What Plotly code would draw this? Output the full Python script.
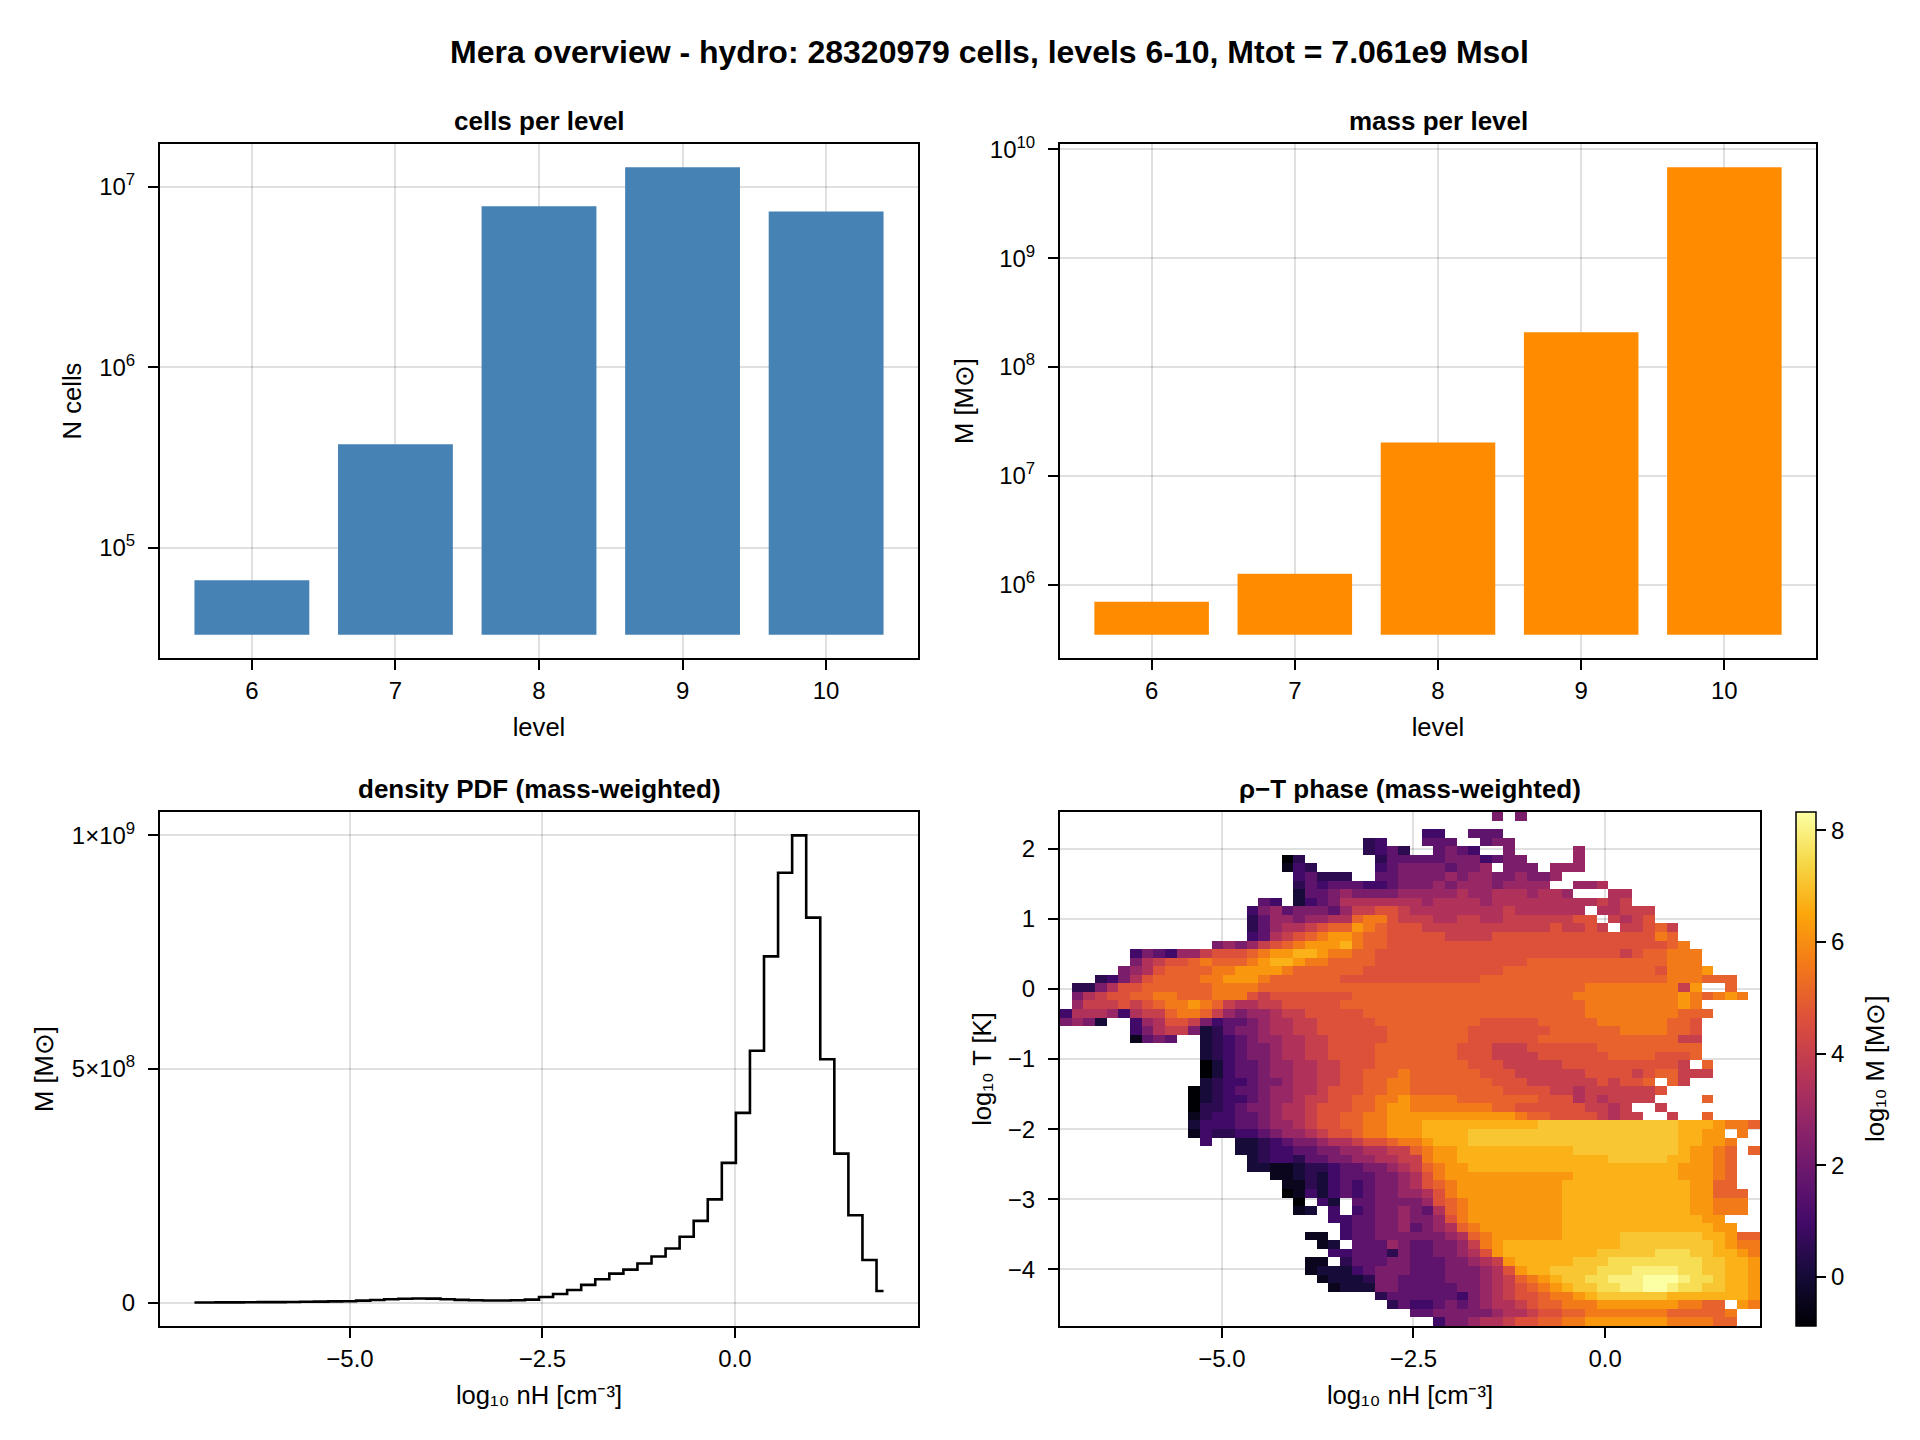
import numpy as np
import plotly.graph_objects as go

# ---------------------------------------------------------------- data
TITLE = "Mera overview - hydro: 28320979 cells, levels 6-10, Mtot = 7.061e9 Msol"

LEVELS = [6, 7, 8, 9, 10]
CELLS_PER_LEVEL = [66200, 375000, 7.80e6, 12.8e6, 7.28e6]
MASS_PER_LEVEL = [6.95e5, 1.26e6, 2.02e7, 2.09e8, 6.83e9]

# density PDF: 50 bins of log10 nH over the data range, mass per bin [Msol]
NH_RANGE = [-7.111, 2.021]
DENSITY_PDF_MASS = [
    0.0003e9, 0.0004e9, 0.0005e9, 0.0006e9, 0.0008e9, 0.0010e9, 0.0012e9, 0.0015e9,
    0.0018e9, 0.0022e9, 0.0026e9, 0.0030e9, 0.0042e9, 0.0058e9, 0.0073e9, 0.0084e9,
    0.0089e9, 0.0085e9, 0.0073e9, 0.0060e9, 0.0050e9, 0.0045e9, 0.0046e9, 0.0052e9,
    0.0064e9, 0.0120e9, 0.0186e9, 0.0270e9, 0.0380e9, 0.0500e9, 0.0620e9, 0.0707e9,
    0.0836e9, 0.0986e9, 0.1160e9, 0.1410e9, 0.1750e9, 0.2210e9, 0.2990e9, 0.4060e9,
    0.5390e9, 0.7410e9, 0.9200e9, 1.0000e9, 0.8240e9, 0.5210e9, 0.3190e9, 0.1870e9,
    0.0914e9, 0.0250e9,
]

# rho-T phase diagram: 60 x 60 cells, log10 nH range x log10 T range
T_RANGE = [-4.809, 2.524]
PHASE_KEY = "0123456789ABCDEFGHI"
PHASE_LOG_MASS = [-0.88, -0.42, 0.04, 0.5, 0.96, 1.6, 2.25, 2.9, 3.45, 4.0,
                  4.65, 5.05, 5.6, 6.2, 6.7, 7.1, 7.55, 7.95, 8.33]
PHASE_ROWS = [  # top row (highest T) first, '.' = empty cell
    ".........." ".........." ".........." ".......6.6" ".........." "..........",
    ".........." ".........." ".........." ".........." ".........." "..........",
    ".........." ".........." ".........." ".44..555.." ".........." "..........",
    ".........." ".........." "......34.." ".555..566." ".........." "..........",
    ".........." ".........." "......3453" "..5654..6." "....7....." "..........",
    ".........." ".........0" "3......355" "5556664566" "....7....." "..........",
    ".........." ".........1" "43.....456" "6665667.66" "6.777....." "..........",
    ".........." ".........." "45333..556" "6667677667" "667......." "..........",
    ".........." ".........." "3545554456" "6676777677" "77..778..." "..........",
    ".........." ".........." "2556766667" "7777877888" "7887...88." "..........",
    ".........." ".......54." "2456888888" "8788887888" "888888989." "..........",
    ".........." "......4675" "6665799AA9" "8888888898" "88888.8899" "9.........",
    ".........." "......3577" "67788BCCA9" "9988998899" "9999AA.989" "A.........",
    ".........." "......3578" "89ABBDCBAA" "A999999999" "99A99A9.99" "AB9.......",
    ".........." "......4589" "ABCDDCBBAA" "AAA9999AAA" "AAAAAAAAAA" "ACB.......",
    ".........." "...67679AB" "CDDDECBBAA" "AAAAAAAAAA" "AAAAAAAAAA" "AABC......",
    "......4654" "779AAABCDD" "EEDCCBBAAA" "AAAAAAAAAA" "AAAAAAAA9A" "BBCCC.....",
    "......689A" "ABCBBBCDEE" "DCCBBBBAAA" "AAAAAAAAAA" "BBBBBBBBBB" "BBCCC.....",
    ".....678AB" "BBBCCDDDDC" "BBBBBBAAAA" "AAAAAAAABB" "BBBBBBBBBB" "BACCCD....",
    "...3468ABB" "BBCCDDDCBB" "BBBBAAAAAA" "AAAAAABBBB" "BBBBBBBBBB" "BBCCCBBB..",
    ".3368AABBB" "BBBCCCCBBB" "BBBBBBBBBB" "BBBBBBBBBB" "BBBBBCCCCC" "CCC9D..B..",
    ".689AABBCC" "BBBCCCA9AA" "AAAAABBBBB" "BBBBBBBBBB" "BBBBCCCCCC" "CCCDCBCDC.",
    ".7999A9ABC" "CDCB98899A" "AAAABBBBBB" "BBBBBBBBBB" "BBBBBCCCCC" "CCCDC.....",
    "488874899B" "CCB9767789" "9AAAAABBBB" "BBBBBBBBBB" "BBBBBCCCCC" "CCCBBB....",
    "6762..478A" "A964556788" "99AAAAABBB" "BBBBBBAAAA" "ABBBBBCCCC" "CCBBA.....",
    "......4689" "9623566788" "99AAAAAABB" "BBBBBAAAAA" "AABBBBBBCC" "CCBBA.....",
    "......1565" "..23456778" "899AAAAABB" "BBBBBAAAAA" "ABBBBBBBBB" "BBB99.....",
    ".........." "..23456678" "899AAAABBB" "BBBBAAA999" "AAAAAABBBB" "BBBBB.....",
    ".........." "..23456678" "899AAAABBB" "BBBBAAA999" "9AAAAAABBB" "BAAAB.....",
    ".........." "..02455677" "8899AAABBB" "BBBBBAAA99" "999AAAAAAA" "AAA9.B....",
    ".........." "..02455677" "8899AABBBC" "BBBBBBAAA9" "99999AAAA9" "ABB999....",
    ".........." "..23445667" "8899AABBCC" "BBBBBBBAAA" "999999A9AA" "B.B9......",
    ".........." ".023455677" "889AAABBCC" "BBBBBBBBAA" "AA99899999" "9A........",
    ".........." ".023445677" "899AABBCCD" "CCCCBBBBBB" "BAAA898999" "9....B....",
    ".........." ".033456678" "89AAABBCDD" "CCCCCCCBBA" "AAAAA9989." ".9........",
    ".........." ".134455678" "89AABBCCDD" "DDDDDDDDDC" "BBAAAA9899" "..9..B....",
    ".........." ".244455677" "89AABBCCDD" "DEEEEEEEEE" "EFFFFFFFFF" "FFFEEEDCCB",
    ".........." ".143344567" "789AABCCDD" "DEEEEFFFFF" "FFFFFFFFFF" "FFFEEDD.C.",
    ".........." "..4..22345" "667889AABC" "CDEEEFFFFF" "FFFFFFFFFF" "FFFEEDDC..",
    ".........." ".....22344" "5566778899" "BCDDEEEEEE" "EEEEFFFFFF" "FFFEDDCB.B",
    ".........." "......2344" "3556677889" "9CDDEEEEEE" "EEEEEEEFFF" "FFEEDDCB..",
    ".........." "......2211" "2334556678" "9BCDDEEEEE" "EEEEEEEEEE" "EEEDDDCB..",
    ".........." "........11" "2324555667" "8ACDDDDDDD" "DDDDEEEEEE" "EEEDDDCB..",
    ".........." ".........1" "1324545667" "8ABCDDDDDD" "DDDEEEEEEE" "EEEEDDBB..",
    ".........." ".........0" "1424545667" "78ACDDDDDD" "DDDEEEEEEE" "EEEEDDBBB.",
    ".........." ".........." "0.42.55666" "67ABCDDDDD" "DDDEEEEEEE" "EEEEDDCCC.",
    ".........." ".........." "12.4.45667" "658BCDDDDD" "DDDEEEEEEE" "EEEEDDCCC.",
    ".........." ".........." "...4455667" "667ACDDDDD" "DDDEEEEEEE" "EEEEEDD...",
    ".........." ".........." "....455667" "5678BCDDDD" "DDDEEEEEEE" "EEEEEEDD..",
    ".........." ".........." ".11.455666" "66678BCDDD" "DDDEEEEEFF" "FFFFFEEDBB",
    ".........." ".........." "..12.55576" "556679CDEE" "EEEEEEEEFF" "FFFFFFEDCC",
    ".........." ".........." "...4455536" "556678ADEE" "EEEEEEFFFF" "FGGGFFEEDC",
    ".........." ".........." ".11.355566" "55566789DE" "EEEEFFFGGG" "GGGGGFFEED",
    ".........." ".........." ".122245666" "55566678AD" "EEFFFFGGGH" "HHHGGFFEED",
    ".........." ".........." "..12223665" "555666789B" "CDEFFGGHHH" "IIIHGGFEED",
    ".........." ".........." "...1222665" "555566789A" "BCDEFFGGHH" "IIHGGFFEED",
    ".........." ".........." ".......355" "555546789A" "ABCCDEFFFF" "FFEEEEEEED",
    ".........." ".........." "........35" "4456567889" "ABBCCCDDDD" "DDDCCBB.DC",
    ".........." ".........." ".........." "5566666788" "9AABBCCCCC" "CCBBBBBC..",
    ".........." ".........." ".........." "..4667889A" "ABBCCDDDDD" "DDCCCCBB..",
]
PHASE_CBAR_RANGE = [-0.88, 8.33]

# ---------------------------------------------------------------- helpers
W, H = 1920, 1440
FONT = "Liberation Sans, Arial, Helvetica, sans-serif"
TICK_SIZE = 24
LABEL_SIZE = 25.6
TITLE_SIZE = 26
SUPTITLE_SIZE = 32


def dom_x(a, b):
    return [a / W, b / W]


def dom_y(top, bot):
    return [1 - bot / H, 1 - top / H]


LEFT = (160, 918)
RIGHT = (1060, 1816)
HEAT_RIGHT = 1760
TOP = (144, 658)
BOT = (812, 1326)

GRID = "rgba(0,0,0,0.12)"


def axis(title_text, standoff, **kw):
    d = dict(showline=True, mirror=True, linecolor="black", linewidth=2,
             ticks="outside", ticklen=10, tickwidth=1.6, tickcolor="black",
             showgrid=True, gridcolor=GRID, gridwidth=1.5, zeroline=False,
             automargin=False,
             tickfont=dict(size=TICK_SIZE, color="black", family=FONT),
             title=dict(text=title_text, standoff=standoff,
                        font=dict(size=LABEL_SIZE, color="black", family=FONT)))
    d.update(kw)
    return d


def log_limits(vals):
    base = min(vals) / 2.0
    lo, hi = np.log10(base), np.log10(max(vals))
    pad = 0.05 * (hi - lo)
    return base, [lo - pad, hi + pad]


def sup_power(v):
    return "10<sup>%d</sup>" % int(round(np.log10(v)))


fig = go.Figure()

# ---------------- cells per level
cells_base, cells_rng = log_limits(CELLS_PER_LEVEL)
fig.add_trace(go.Bar(x=LEVELS, y=[v - cells_base for v in CELLS_PER_LEVEL],
                     base=[cells_base] * len(LEVELS), width=0.8,
                     marker=dict(color="#4682b4", line=dict(width=0)),
                     xaxis="x", yaxis="y", showlegend=False))

# ---------------- mass per level
mass_base, mass_rng = log_limits(MASS_PER_LEVEL)
fig.add_trace(go.Bar(x=LEVELS, y=[v - mass_base for v in MASS_PER_LEVEL],
                     base=[mass_base] * len(LEVELS), width=0.8,
                     marker=dict(color="#ff8c00", line=dict(width=0)),
                     xaxis="x2", yaxis="y2", showlegend=False))

# ---------------- density PDF
edges = np.linspace(NH_RANGE[0], NH_RANGE[1], len(DENSITY_PDF_MASS) + 1)
centers = 0.5 * (edges[:-1] + edges[1:])
fig.add_trace(go.Scatter(x=centers, y=DENSITY_PDF_MASS, mode="lines",
                         line=dict(color="black", width=2.6, shape="hvh"),
                         xaxis="x3", yaxis="y3", showlegend=False))

# ---------------- phase diagram
nrow = len(PHASE_ROWS)
ncol = len(PHASE_ROWS[0])
z = np.full((nrow, ncol), np.nan)
for r, row in enumerate(PHASE_ROWS):
    row = row.ljust(ncol, ".")[:ncol]
    for c, ch in enumerate(row):
        if ch != ".":
            z[r, c] = PHASE_LOG_MASS[PHASE_KEY.index(ch)]
z = z[::-1]  # bottom row first
xe = np.linspace(NH_RANGE[0], NH_RANGE[1], ncol + 1)
ye = np.linspace(T_RANGE[0], T_RANGE[1], nrow + 1)
xc = 0.5 * (xe[:-1] + xe[1:])
yc = 0.5 * (ye[:-1] + ye[1:])

INFERNO = [[0.0, "#000004"], [0.1, "#160b39"], [0.2, "#420a68"], [0.3, "#6a176e"],
           [0.4, "#932667"], [0.5, "#bc3754"], [0.6, "#dd513a"], [0.7, "#f37819"],
           [0.8, "#fca50a"], [0.9, "#f6d746"], [1.0, "#fcffa4"]]

fig.add_trace(go.Heatmap(
    x=xc, y=yc, z=z, colorscale=INFERNO,
    zmin=PHASE_CBAR_RANGE[0], zmax=PHASE_CBAR_RANGE[1],
    xaxis="x4", yaxis="y4", hoverongaps=False,
    colorbar=dict(
        x=1796 / W, xanchor="left", y=dom_y(*BOT)[0], yanchor="bottom",
        len=(BOT[1] - BOT[0]) / H, lenmode="fraction",
        thickness=20, thicknessmode="pixels", xpad=0, ypad=0,
        outlinewidth=1.5, outlinecolor="black",
        ticks="outside", ticklen=10, tickwidth=1.6, tickcolor="black",
        tickvals=[0, 2, 4, 6, 8], ticktext=["0", "2", "4", "6", "8"],
        tickfont=dict(size=TICK_SIZE, color="black", family=FONT),
    ),
))

lvl_rng = [LEVELS[0] - 0.4 - 0.05 * 4.8, LEVELS[-1] + 0.4 + 0.05 * 4.8]
pdf_rng_x = [centers[0] - 0.05 * (centers[-1] - centers[0]),
             centers[-1] + 0.05 * (centers[-1] - centers[0])]
pdf_max = max(DENSITY_PDF_MASS)
pdf_rng_y = [-0.05 * pdf_max, 1.05 * pdf_max]

XSTAND = 15
YPAD = 8
fig.update_layout(
    width=W, height=H, margin=dict(l=0, r=0, t=0, b=0, autoexpand=False),
    paper_bgcolor="white", plot_bgcolor="white",
    font=dict(family=FONT, color="black"),
    xaxis=axis("level", XSTAND, domain=dom_x(*LEFT), anchor="y", range=lvl_rng,
               tickvals=LEVELS),
    yaxis=axis("N cells", 10, domain=dom_y(*TOP), anchor="x", type="log", range=cells_rng,
               tickvals=[1e5, 1e6, 1e7], ticktext=[sup_power(v) for v in [1e5, 1e6, 1e7]],
               ticklabelstandoff=YPAD),
    xaxis2=axis("level", XSTAND, domain=dom_x(*RIGHT), anchor="y2", range=lvl_rng,
                tickvals=LEVELS),
    yaxis2=axis("M [M⊙]", 9, domain=dom_y(*TOP), anchor="x2", type="log", range=mass_rng,
                tickvals=[1e6, 1e7, 1e8, 1e9, 1e10],
                ticktext=[sup_power(v) for v in [1e6, 1e7, 1e8, 1e9, 1e10]],
                ticklabelstandoff=YPAD),
    xaxis3=axis("log₁₀ nH [cm⁻³]", XSTAND, domain=dom_x(*LEFT), anchor="y3",
                range=pdf_rng_x, tickvals=[-5, -2.5, 0], ticktext=["−5.0", "−2.5", "0.0"]),
    yaxis3=axis("M [M⊙]", 11, domain=dom_y(*BOT), anchor="x3", range=pdf_rng_y,
                tickvals=[0, 5e8, 1e9],
                ticktext=["0", "5×10<sup>8</sup>", "1×10<sup>9</sup>"],
                ticklabelstandoff=YPAD),
    xaxis4=axis("log₁₀ nH [cm⁻³]", XSTAND, domain=dom_x(RIGHT[0], HEAT_RIGHT), anchor="y4",
                range=NH_RANGE, tickvals=[-5, -2.5, 0], ticktext=["−5.0", "−2.5", "0.0"]),
    yaxis4=axis("log₁₀ T [K]", 8.5, domain=dom_y(*BOT), anchor="x4", range=T_RANGE,
                tickvals=[2, 1, 0, -1, -2, -3, -4],
                ticktext=["2", "1", "0", "−1", "−2", "−3", "−4"],
                ticklabelstandoff=YPAD),
)

annotations = [
    dict(text="<b>%s</b>" % TITLE, x=989 / W, y=1 - 51.5 / H,
         font=dict(size=SUPTITLE_SIZE)),
    dict(text="<b>cells per level</b>", x=(LEFT[0] + LEFT[1]) / 2 / W, y=1 - 121 / H),
    dict(text="<b>mass per level</b>", x=(RIGHT[0] + RIGHT[1]) / 2 / W, y=1 - 121 / H),
    dict(text="<b>density PDF (mass-weighted)</b>", x=(LEFT[0] + LEFT[1]) / 2 / W,
         y=1 - 788.5 / H),
    dict(text="<b>ρ−T phase (mass-weighted)</b>", x=(RIGHT[0] + HEAT_RIGHT) / 2 / W,
         y=1 - 788.5 / H),
    # colorbar label
    dict(text="log₁₀ M [M⊙]", x=1875 / W, y=1 - (BOT[0] + BOT[1]) / 2 / H,
         textangle=-90, font=dict(size=LABEL_SIZE)),
]
for a in annotations:
    a.setdefault("font", dict(size=TITLE_SIZE))
    a["font"].update(color="black", family=FONT)
    fig.add_annotation(xref="paper", yref="paper", xanchor="center", yanchor="middle",
                       showarrow=False, **a)

fig.write_html("out.html", include_plotlyjs=True, full_html=True,
               config={"displayModeBar": False},
               post_script="document.body.style.margin='0px';")
